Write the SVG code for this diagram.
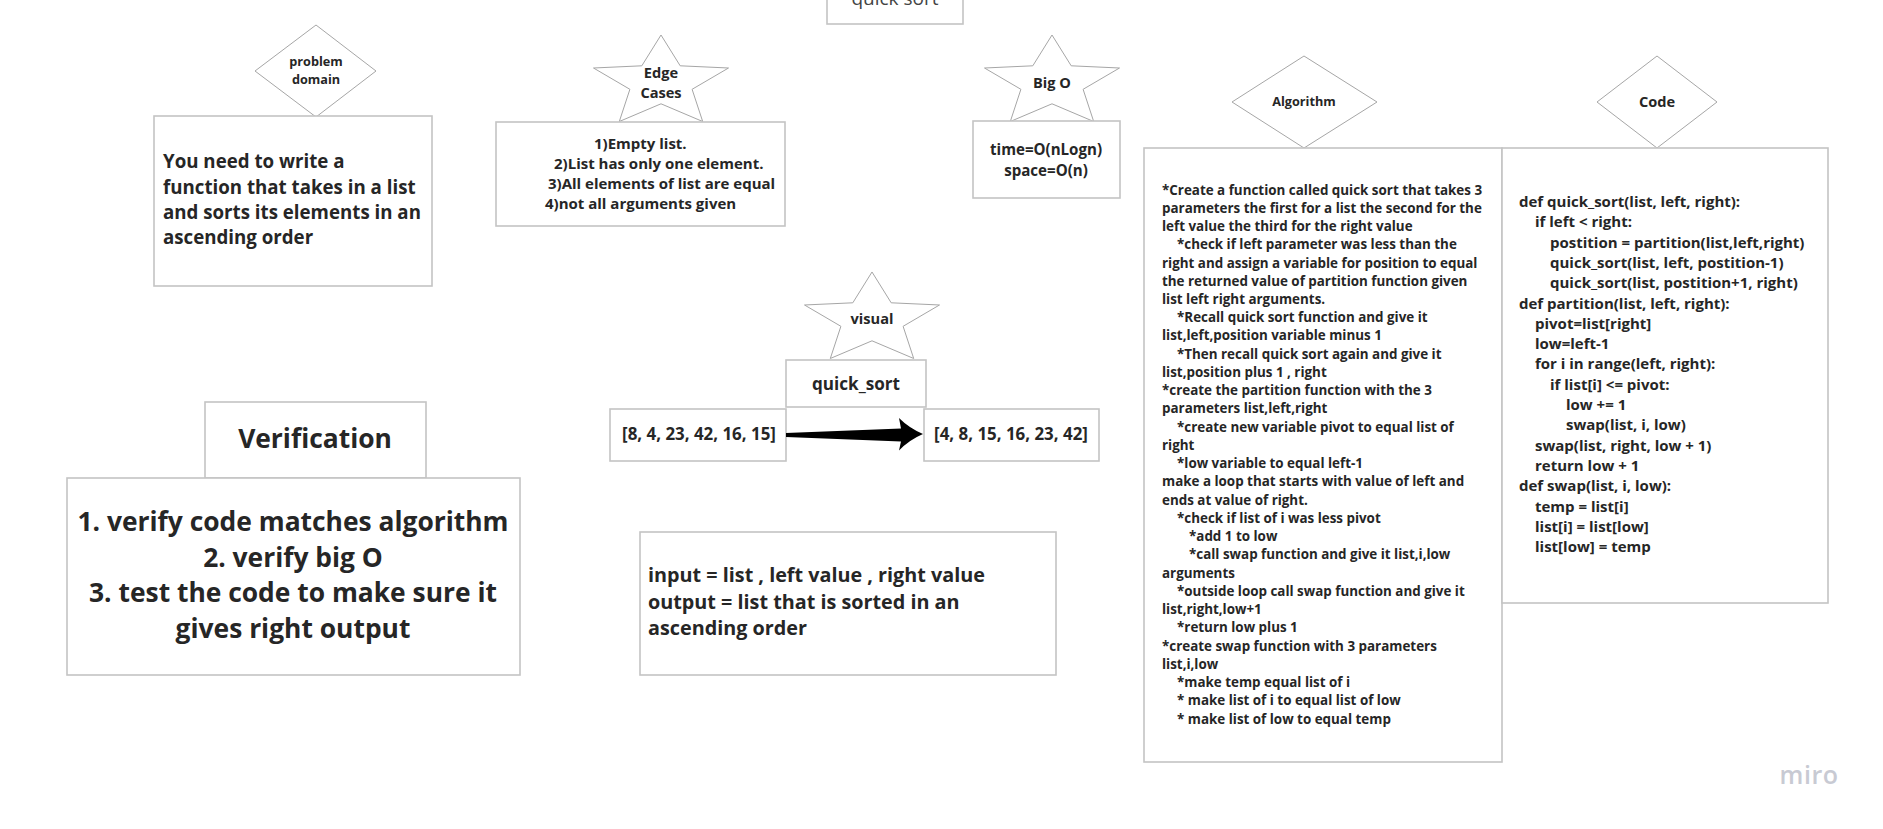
<svg xmlns="http://www.w3.org/2000/svg" xmlns:xlink="http://www.w3.org/1999/xlink" width="1883" height="829" viewBox="0 0 1883 829">
<style>
.box{fill:#fff;stroke:#c4c4c4;stroke-width:1.6}
.shape{fill:#fff;stroke:#a6a6a6;stroke-width:1}
.t{font-family:"Open Sans","Noto Sans",sans-serif;font-weight:700;fill:#262626}
.c{text-anchor:middle}
.alg{font-size:13.4px}
.code{font-size:15px}
</style>
<defs>
<path id="star" d="M0,-47.8 L19.2,-17 L67.5,-14.8 L31.1,6.5 L41.7,38.7 L0,21 L-41.7,38.7 L-31.1,6.5 L-67.5,-14.8 L-19.2,-17 Z"/>
</defs>
<rect x="0" y="0" width="1883" height="829" fill="#fff"/>

<g id="title">
<rect class="box" x="827" y="-20" width="136" height="44"/>
<text x="895" y="5" text-anchor="middle" style="font-family:'Open Sans',sans-serif;font-size:19px;font-weight:400;fill:#444">quick sort</text>
</g>

<g id="problem-domain">
<polygon class="shape" points="316,25 376,71 316,117 255,71"/>
<text class="t c" x="316" y="66" font-size="12.7">problem</text>
<text class="t c" x="316" y="84" font-size="12.7">domain</text>
</g>
<g id="problem-box">
<rect class="box" x="154" y="116" width="278" height="170"/>
<text class="t" font-size="18.7"><tspan x="163" y="168">You need to write a</tspan><tspan x="163" y="194">function that takes in a list</tspan><tspan x="163" y="219">and sorts its elements in an</tspan><tspan x="163" y="244">ascending order</tspan></text>
</g>

<g id="edge-cases">
<use xlink:href="#star" href="#star" class="shape" x="661" y="82.8"/>
<text class="t c" x="661" y="78" font-size="14.6">Edge</text>
<text class="t c" x="661" y="98" font-size="14.6">Cases</text>
</g>
<g id="edge-box">
<rect class="box" x="496" y="122" width="289" height="104"/>
<text class="t" font-size="15"><tspan x="594" y="149">1)Empty list.</tspan><tspan x="554" y="169">2)List has only one element.</tspan><tspan x="548" y="189">3)All elements of list are equal</tspan><tspan x="545" y="209">4)not all arguments given</tspan></text>
</g>

<g id="big-o">
<use xlink:href="#star" href="#star" class="shape" x="1052" y="82.8"/>
<text class="t c" x="1052" y="88" font-size="14.6">Big O</text>
</g>
<g id="big-o-box">
<rect class="box" x="973" y="121" width="147" height="77"/>
<text class="t c" x="1046" y="155" font-size="15.1">time=O(nLogn)</text>
<text class="t c" x="1046" y="176" font-size="15.1">space=O(n)</text>
</g>

<g id="algorithm">
<polygon class="shape" points="1304,56 1377,102 1304,148 1232,102"/>
<text class="t c" x="1304" y="106" font-size="12.7">Algorithm</text>
</g>
<g id="algorithm-box">
<rect class="box" x="1144" y="148" width="358" height="614"/>
<text class="t alg">
<tspan x="1162" y="194.5">*Create a function called quick sort that takes 3</tspan>
<tspan x="1162" y="212.7">parameters the first for a list the second for the</tspan>
<tspan x="1162" y="231">left value the third for the right value</tspan>
<tspan x="1177" y="249.2">*check if left parameter was less than the</tspan>
<tspan x="1162" y="267.5">right and assign a variable for position to equal</tspan>
<tspan x="1162" y="285.7">the returned value of partition function given</tspan>
<tspan x="1162" y="303.9">list left right arguments.</tspan>
<tspan x="1177" y="322.2">*Recall quick sort function and give it</tspan>
<tspan x="1162" y="340.4">list,left,position variable minus 1</tspan>
<tspan x="1177" y="358.7">*Then recall quick sort again and give it</tspan>
<tspan x="1162" y="376.9">list,position plus 1 , right</tspan>
<tspan x="1162" y="395.1">*create the partition function with the 3</tspan>
<tspan x="1162" y="413.4">parameters list,left,right</tspan>
<tspan x="1177" y="431.6">*create new variable pivot to equal list of</tspan>
<tspan x="1162" y="449.9">right</tspan>
<tspan x="1177" y="468.1">*low variable to equal left-1</tspan>
<tspan x="1162" y="486.3">make a loop that starts with value of left and</tspan>
<tspan x="1162" y="504.6">ends at value of right.</tspan>
<tspan x="1177" y="522.8">*check if list of i was less pivot</tspan>
<tspan x="1189" y="541.1">*add 1 to low</tspan>
<tspan x="1189" y="559.3">*call swap function and give it list,i,low</tspan>
<tspan x="1162" y="577.5">arguments</tspan>
<tspan x="1177" y="595.8">*outside loop call swap function and give it</tspan>
<tspan x="1162" y="614">list,right,low+1</tspan>
<tspan x="1177" y="632.3">*return low plus 1</tspan>
<tspan x="1162" y="650.5">*create swap function with 3 parameters</tspan>
<tspan x="1162" y="668.7">list,i,low</tspan>
<tspan x="1177" y="687">*make temp equal list of i</tspan>
<tspan x="1177" y="705.2">* make list of i to equal list of low</tspan>
<tspan x="1177" y="723.5">* make list of low to equal temp</tspan>
</text>
</g>

<g id="code">
<polygon class="shape" points="1657,56 1717,102 1657,148 1597,102"/>
<text class="t c" x="1657" y="107" font-size="14.6">Code</text>
</g>
<g id="code-box">
<rect class="box" x="1502" y="148" width="326" height="455"/>
<text class="t code">
<tspan x="1519" y="207">def quick_sort(list, left, right):</tspan>
<tspan x="1535" y="227.3">if left &lt; right:</tspan>
<tspan x="1550" y="247.6">postition = partition(list,left,right)</tspan>
<tspan x="1550" y="267.9">quick_sort(list, left, postition-1)</tspan>
<tspan x="1550" y="288.2">quick_sort(list, postition+1, right)</tspan>
<tspan x="1519" y="308.5">def partition(list, left, right):</tspan>
<tspan x="1535" y="328.8">pivot=list[right]</tspan>
<tspan x="1535" y="349.1">low=left-1</tspan>
<tspan x="1535" y="369.4">for i in range(left, right):</tspan>
<tspan x="1550" y="389.7">if list[i] &lt;= pivot:</tspan>
<tspan x="1566" y="410">low += 1</tspan>
<tspan x="1566" y="430.3">swap(list, i, low)</tspan>
<tspan x="1535" y="450.6">swap(list, right, low + 1)</tspan>
<tspan x="1535" y="470.9">return low + 1</tspan>
<tspan x="1519" y="491.2">def swap(list, i, low):</tspan>
<tspan x="1535" y="511.5">temp = list[i]</tspan>
<tspan x="1535" y="531.8">list[i] = list[low]</tspan>
<tspan x="1535" y="552.1">list[low] = temp</tspan>
</text>
</g>

<g id="visual">
<use xlink:href="#star" href="#star" class="shape" x="872" y="319.8"/>
<text class="t c" x="872" y="324" font-size="14.6">visual</text>
</g>
<g id="quick-sort-box">
<rect class="box" x="786" y="360" width="140" height="47"/>
<text class="t c" x="856" y="390" font-size="17.1">quick_sort</text>
</g>
<g id="input-list">
<rect class="box" x="610" y="409" width="176" height="52"/>
<text class="t c" x="699" y="440" font-size="16.9">[8, 4, 23, 42, 16, 15]</text>
</g>
<g id="output-list">
<rect class="box" x="924" y="409" width="175" height="52"/>
<text class="t c" x="1011" y="440" font-size="16.9">[4, 8, 15, 16, 23, 42]</text>
</g>

<g id="io-box">
<rect class="box" x="640" y="532" width="416" height="143"/>
<text class="t" font-size="19.8"><tspan x="648" y="582">input = list , left value , right value</tspan><tspan x="648" y="609">output = list that is sorted in an</tspan><tspan x="648" y="635">ascending order</tspan></text>
</g>

<g id="verification">
<rect class="box" x="205" y="402" width="221" height="76"/>
<text class="t c" x="315" y="448" font-size="26.4">Verification</text>
</g>
<g id="verification-box">
<rect class="box" x="67" y="478" width="453" height="197"/>
<text class="t c" font-size="26.4"><tspan x="293" y="531">1. verify code matches algorithm</tspan><tspan x="293" y="567">2. verify big O</tspan><tspan x="293" y="602">3. test the code to make sure it</tspan><tspan x="293" y="638">gives right output</tspan></text>
</g>

<g id="connectors">
<path d="M786,433 L901,428.5 L899,418 Q909,428 923,434 Q909,440 899,450.5 L901,441.5 L786,437 Z" fill="#000"/>
</g>

<g id="watermark">
<text x="1809" y="784" text-anchor="middle" style="font-family:'Open Sans',sans-serif;font-size:25px;font-weight:600;fill:#c8cad3;letter-spacing:0.5px">miro</text>
</g>
</svg>
